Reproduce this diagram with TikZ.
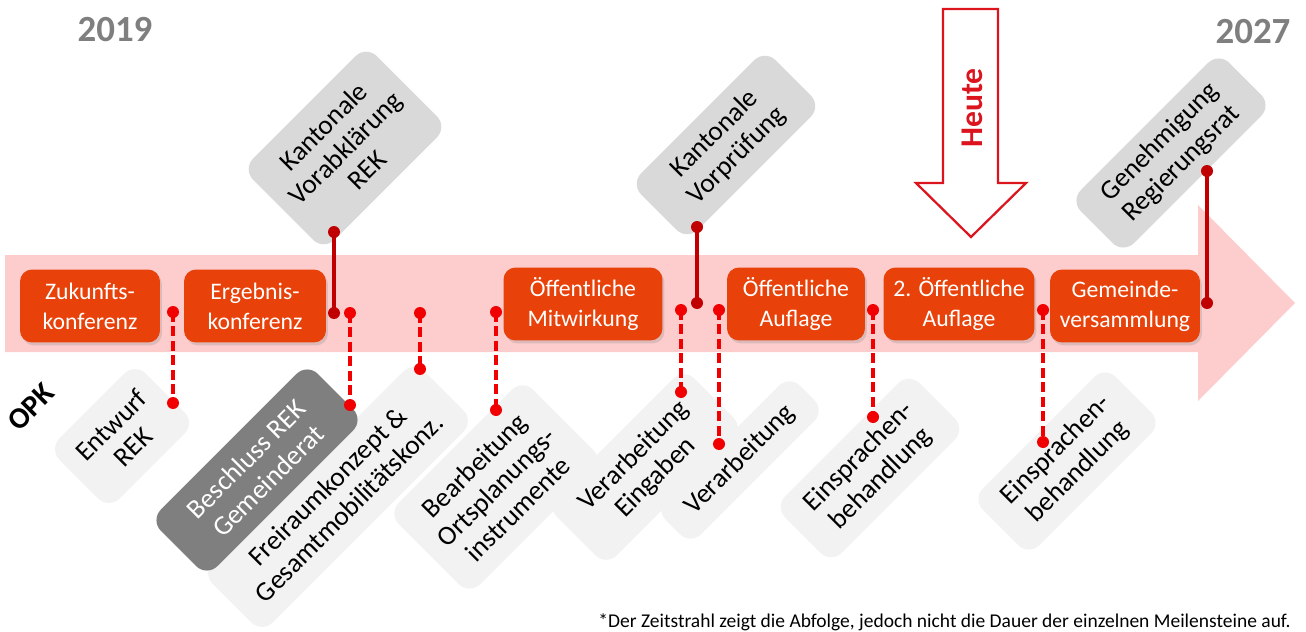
\documentclass[tikz,border=0pt]{standalone}
\usepackage{fontspec}
\setmainfont{Carlito}
\usetikzlibrary{shadows}

\definecolor{bandpink}{RGB}{253,205,205}
\definecolor{phaseorange}{RGB}{232,66,10}
\definecolor{linedark}{RGB}{192,0,0}
\definecolor{linered}{RGB}{240,0,0}
\definecolor{boxgrey}{RGB}{217,217,217}
\definecolor{boxlight}{RGB}{242,242,242}
\definecolor{boxdark}{RGB}{127,127,127}
\definecolor{heutered}{RGB}{220,20,30}

\begin{document}
\begin{tikzpicture}[x=0.02cm, y=-0.02cm,
  phase/.style={fill=phaseorange, text=white, rounded corners=0.24cm, minimum height=1.46cm,
    align=center, font=\fontsize{13.5}{17}\selectfont,
    drop shadow={opacity=0.25, shadow xshift=0.04cm, shadow yshift=-0.06cm}},
  tag/.style={rotate=45, rounded corners=0.3cm, align=center, inner sep=0pt,
    font=\fontsize{15.5}{17.5}\selectfont},
  uptag/.style={tag, fill=boxgrey},
  downtag/.style={tag, fill=boxlight},
  solidlink/.style={linedark, line width=0.075cm},
  dashlink/.style={linered, line width=0.085cm, dash pattern=on 0.2cm off 0.09cm},
  year/.style={text=boxdark, font=\fontsize{21}{24}\selectfont\bfseries}]
  \useasboundingbox (0,0) rectangle (1306,632);

  % Time band
  \fill[bandpink] (5,255) -- (1198,255) -- (1198,205) -- (1295,303) -- (1198,401)
    -- (1198,352) -- (5,352) -- cycle;

  % Today marker
  \draw[heutered, line width=0.045cm, fill=white] (943,9) -- (998,9) -- (998,183) -- (1026,183)
    -- (971,237) -- (916,183) -- (943,183) -- cycle;
  \node[rotate=90, text=heutered, font=\fontsize{18}{20}\selectfont\bfseries] (heute) at (972,108) {Heute};

  % Years and label
  \node[year] (start) at (115,30) {2019};
  \node[year] (end) at (1253,32) {2027};
  \node[rotate=45, font=\fontsize{17}{20}\selectfont\bfseries] (opk) at (31,407) {OPK};

  % Milestones above
  \node[uptag, minimum width=3.5cm, minimum height=2.3cm] (vorabkl) at (345,148) {Kantonale\\Vorabklärung\\REK};
  \node[uptag, minimum width=3.8cm, minimum height=1.6cm] (vorpruef) at (726,145) {Kantonale\\Vorprüfung};
  \node[uptag, minimum width=4.2cm, minimum height=1.5cm] (genehm) at (1171,153) {Genehmigung\\Regierungsrat};

  % Milestones below
  \node[downtag, minimum width=2.44cm, minimum height=1.7cm] (entwurf) at (122,436) {Entwurf\\REK};
  \node[downtag, minimum width=6cm, minimum height=1.7cm] (freiraum) at (338,497) {Freiraumkonzept \&\\Gesamtmobilitätskonz.};
  \node[tag, fill=boxdark, text=white, minimum width=4.44cm, minimum height=1.6cm] (beschluss) at (257,470) {Beschluss REK\\Gemeinderat};
  \node[downtag, minimum width=3.8cm, minimum height=2.3cm] (bearb) at (496,487) {Bearbeitung\\Ortsplanungs-\\instrumente};
  \node[downtag, minimum width=3.9cm, minimum height=1.7cm] (verarbein) at (645,467) {Verarbeitung\\Eingaben};
  \node[downtag, minimum width=3.8cm, minimum height=1.0cm] (verarb) at (740,460) {Verarbeitung};
  \node[downtag, minimum width=3.8cm, minimum height=1.6cm] (einspr) at (870,468) {Einsprachen-\\behandlung};
  \node[downtag, minimum width=3.76cm, minimum height=1.6cm] (einsprzwei) at (1067,461) {Einsprachen-\\behandlung};

  % Phases on the band
  \node[phase, minimum width=2.8cm] (zukunft) at (90,306) {Zukunfts-\\konferenz};
  \node[phase, minimum width=2.84cm] (ergebnis) at (255,306) {Ergebnis-\\konferenz};
  \node[phase, minimum width=3.18cm] (mitwirkung) at (583,304) {Öffentliche\\Mitwirkung};
  \node[phase, minimum width=2.76cm] (auflage) at (796,304) {Öffentliche\\Auflage};
  \node[phase, minimum width=3.02cm] (auflagezwei) at (959,304) {2. Öffentliche\\Auflage};
  \node[phase, minimum width=3.0cm] (gemeinde) at (1125,306) {Gemeinde-\\versammlung};

  % Solid links to the upper milestones
  \coordinate (vorabkl-a) at (334,232);
  \coordinate (vorabkl-b) at (334,313);
  \coordinate (vorpruef-a) at (697,227);
  \coordinate (vorpruef-b) at (697,303);
  \coordinate (genehm-a) at (1207,171);
  \coordinate (genehm-b) at (1207,303);
  \draw[solidlink] (vorabkl-a) -- (vorabkl-b);
  \draw[solidlink] (vorpruef-a) -- (vorpruef-b);
  \draw[solidlink] (genehm-a) -- (genehm-b);
  \fill[linedark] (vorabkl-a) circle (0.12cm) (vorabkl-b) circle (0.12cm);
  \fill[linedark] (vorpruef-a) circle (0.12cm) (vorpruef-b) circle (0.12cm);
  \fill[linedark] (genehm-a) circle (0.12cm) (genehm-b) circle (0.12cm);

  % Dashed links to the lower milestones
  \coordinate (entwurf-a) at (173,312);
  \coordinate (entwurf-b) at (173,403);
  \coordinate (beschluss-a) at (350,313);
  \coordinate (beschluss-b) at (350,405);
  \coordinate (freiraum-a) at (420,313);
  \coordinate (freiraum-b) at (420,369);
  \coordinate (bearb-a) at (496,312);
  \coordinate (bearb-b) at (496,410);
  \coordinate (verarbein-a) at (681,310);
  \coordinate (verarbein-b) at (681,392);
  \coordinate (verarb-a) at (719,310);
  \coordinate (verarb-b) at (719,444);
  \coordinate (einspr-a) at (873,310);
  \coordinate (einspr-b) at (873,417);
  \coordinate (einsprzwei-a) at (1043,310);
  \coordinate (einsprzwei-b) at (1043,442);
  \foreach \m in {entwurf, beschluss, freiraum, bearb, verarbein, verarb, einspr, einsprzwei} {
    \draw[dashlink] (\m-a) -- (\m-b);
    \fill[linered] (\m-a) circle (0.12cm) (\m-b) circle (0.12cm);
  }

  % Note
  \node[anchor=east, inner sep=0pt, font=\fontsize{11.1}{13}\selectfont] (note) at (1291,622)
    {*Der Zeitstrahl zeigt die Abfolge, jedoch nicht die Dauer der einzelnen Meilensteine auf.};
\end{tikzpicture}
\end{document}
